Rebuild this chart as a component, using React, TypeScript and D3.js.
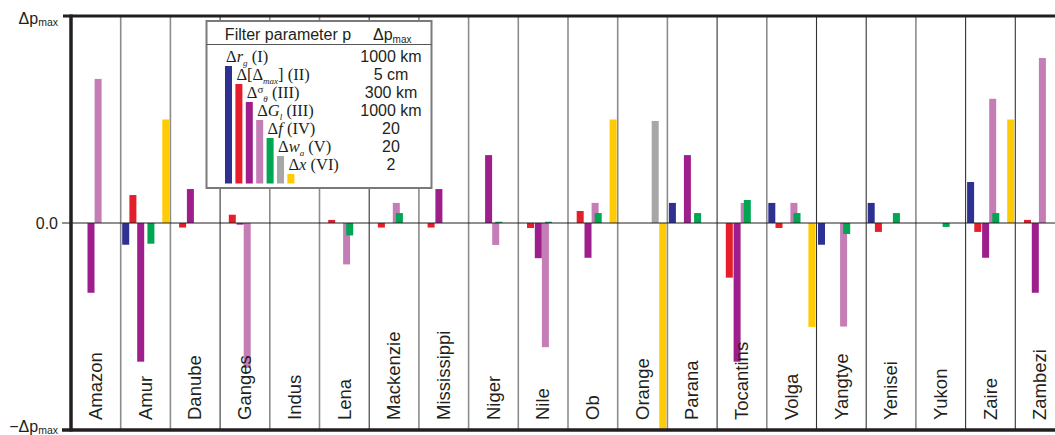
import React, { useEffect, useRef } from 'react'
import * as d3 from 'd3'

// rivers along the x axis
const rivers = [
  'Amazon', 'Amur', 'Danube', 'Ganges', 'Indus', 'Lena', 'Mackenzie', 'Mississippi', 'Niger', 'Nile',
  'Ob', 'Orange', 'Parana', 'Tocantins', 'Volga', 'Yangtye', 'Yenisei', 'Yukon', 'Zaire', 'Zambezi',
]

// relative change, in units of Δp_max, one array per filter parameter
const dRg = [0, -0.105, 0, 0, 0, 0, 0, 0, 0, 0, 0, 0, 0.097, 0, 0.097, -0.105, 0.097, 0, 0.198, 0]
const dDmax = [0, 0.135, -0.022, 0.04, 0, 0.015, -0.022, -0.022, 0, -0.024, 0.058, 0, 0, -0.264, -0.024, 0, -0.043, 0, -0.043, 0.015]
const dSigma = [-0.337, -0.67, 0.164, -0.008, 0, 0, 0, 0.164, 0.328, -0.17, -0.168, 0, 0.328, -0.67, 0, 0, 0, 0, -0.168, -0.337]
const dGl = [0.696, 0, 0, -0.7, 0, -0.2, 0.097, 0, -0.106, -0.6, 0.097, 0, 0, 0.097, 0.097, -0.5, 0, 0, 0.6, 0.797]
const dF = [0, -0.1, 0, 0, 0, -0.06, 0.048, 0, 0.006, 0.006, 0.048, 0, 0.048, 0.111, 0.048, -0.053, 0.048, -0.019, 0.048, 0]
const dWa = [0, 0, 0, 0, 0, 0, 0, 0, 0, 0, 0, 0.493, 0, 0, 0, 0, 0, 0, 0, 0]
const dX = [0, 0.5, 0, 0, 0, 0, 0, 0, 0, 0, 0.5, -1, 0, 0, -0.502, 0, 0, 0, 0.5, 0]

const seriesValues = [dRg, dDmax, dSigma, dGl, dF, dWa, dX]
const seriesColors = ['#2e3192', '#e41e2b', '#9e1f8c', '#c57db5', '#00a651', '#a7a7a7', '#ffcb05']
// bar offset inside a river column (green sits over pink, as in the original)
const seriesOffsets = [1.5, 8.7, 16.5, 23.6, 26.7, 34, 41.6]

// legend table
const legendMax = ['1000 km', '5 cm', '300 km', '1000 km', '20', '20', '2']
type Part = { t: string; i?: boolean; sub?: boolean; sup?: boolean }
const legendLabels: Part[][] = [
  [{ t: 'Δ' }, { t: 'r', i: true }, { t: 'g', i: true, sub: true }, { t: ' (I)' }],
  [{ t: 'Δ[Δ' }, { t: 'max', i: true, sub: true }, { t: '] (II)' }],
  [{ t: 'Δ' }, { t: 'σ', sup: true }, { t: 'θ', i: true, sub: true }, { t: ' (III)' }],
  [{ t: 'Δ' }, { t: 'G', i: true }, { t: 'l', i: true, sub: true }, { t: ' (III)' }],
  [{ t: 'Δ' }, { t: 'f', i: true }, { t: ' (IV)' }],
  [{ t: 'Δ' }, { t: 'w', i: true }, { t: 'a', i: true, sub: true }, { t: ' (V)' }],
  [{ t: 'Δ' }, { t: 'x', i: true }, { t: ' (VI)' }],
]

// which column separators are drawn dark (others light grey)
const darkSeparators = [false, false, true, false, false, true, false, false, false, false, false, false, true, false, true, true, false, true, true]

const W = 1055
const H = 435
const SANS = '"Liberation Sans", Arial, Helvetica, sans-serif'
const SERIF = '"Liberation Serif", "Times New Roman", serif'
const INK = '#231f20'

const App = () => {
  const ref = useRef<SVGSVGElement>(null)

  useEffect(() => {
    const svg = d3.select(ref.current)
    svg.selectAll('*').remove()

    const left = 71
    const colW = 49.7
    const x = d3.scaleBand<string>().domain(rivers).range([left, left + colW * rivers.length]).padding(0)
    const y = d3.scaleLinear().domain([-1, 1]).range([430, 16])
    const barW = 7

    // column separators
    svg
      .append('g')
      .selectAll('line')
      .data(rivers.slice(1))
      .enter()
      .append('line')
      .attr('x1', d => x(d)!)
      .attr('x2', d => x(d)!)
      .attr('y1', y(1))
      .attr('y2', y(-1))
      .attr('stroke', (_, i) => (darkSeparators[i] ? '#333' : '#8c8c8c'))
      .attr('stroke-width', (_, i) => (darkSeparators[i] ? 1.1 : 1.6))

    // bars
    const bars: { r: string; s: number; v: number }[] = []
    rivers.forEach((r, i) => {
      seriesValues.forEach((vals, s) => {
        if (vals[i] !== 0) bars.push({ r, s, v: vals[i] })
      })
    })
    svg
      .append('g')
      .selectAll('rect')
      .data(bars)
      .enter()
      .append('rect')
      .attr('x', d => x(d.r)! + seriesOffsets[d.s])
      .attr('width', barW)
      .attr('y', d => Math.min(y(d.v), y(0)))
      .attr('height', d => Math.abs(y(d.v) - y(0)))
      .attr('fill', d => seriesColors[d.s])

    // zero line
    svg
      .append('line')
      .attr('x1', 62)
      .attr('x2', W)
      .attr('y1', y(0))
      .attr('y2', y(0))
      .attr('stroke', INK)
      .attr('stroke-width', 1)

    // river names
    svg
      .append('g')
      .selectAll('text')
      .data(rivers)
      .enter()
      .append('text')
      .text(d => d)
      .attr('transform', d => `translate(${x(d)! + 31}, 420) rotate(-90)`)
      .attr('font-family', SANS)
      .attr('font-size', 18.5)
      .attr('fill', INK)

    // legend box
    const lg = svg.append('g')
    lg.append('rect')
      .attr('x', 206.5)
      .attr('y', 21)
      .attr('width', 225)
      .attr('height', 167)
      .attr('fill', '#fff')
      .attr('stroke', '#7a7a7a')
      .attr('stroke-width', 2)
    lg.append('line')
      .attr('x1', 206.5)
      .attr('x2', 431.5)
      .attr('y1', 44.5)
      .attr('y2', 44.5)
      .attr('stroke', '#555')
      .attr('stroke-width', 1)
    lg.append('text')
      .text('Filter parameter p')
      .attr('x', 288)
      .attr('y', 40)
      .attr('text-anchor', 'middle')
      .attr('font-family', SANS)
      .attr('font-size', 16)
      .attr('fill', INK)
    const hdr = lg.append('text').attr('x', 373).attr('y', 40).attr('font-family', SANS).attr('fill', INK)
    hdr.append('tspan').text('Δp').attr('font-size', 16)
    hdr.append('tspan').text('max').attr('font-size', 10).attr('dy', 3)

    const rowY = d3.scaleLinear().domain([0, 1]).range([62, 80])
    const legX = d3.scaleLinear().domain([0, 1]).range([225, 235.4])
    legendLabels.forEach((parts, k) => {
      lg.append('rect')
        .attr('x', legX(k))
        .attr('y', rowY(k) + 4)
        .attr('width', barW)
        .attr('height', 183.5 - rowY(k) - 4)
        .attr('fill', seriesColors[k])
      const t = lg
        .append('text')
        .attr('x', legX(k) + 1)
        .attr('y', rowY(k))
        .attr('font-family', SERIF)
        .attr('font-size', 16.5)
        .attr('fill', INK)
      let shift = 0
      parts.forEach(p => {
        const target = p.sub ? 4 : p.sup ? -5 : 0
        const ts = t.append('tspan').text(p.t)
        if (target !== shift) ts.attr('dy', target - shift)
        shift = target
        if (p.i) ts.attr('font-style', 'italic')
        if (p.sub) ts.attr('font-size', 9)
        if (p.sup) ts.attr('font-size', 11)
      })
      lg.append('text')
        .text(legendMax[k])
        .attr('x', 391)
        .attr('y', rowY(k))
        .attr('text-anchor', 'middle')
        .attr('font-family', SANS)
        .attr('font-size', 16)
        .attr('fill', INK)
    })

    // frame: left axis, top and bottom lines
    svg.append('line').attr('x1', 63).attr('x2', W).attr('y1', y(1)).attr('y2', y(1))
      .attr('stroke', INK).attr('stroke-width', 3)
    svg.append('line').attr('x1', 62).attr('x2', W).attr('y1', y(-1)).attr('y2', y(-1))
      .attr('stroke', INK).attr('stroke-width', 3.5)
    svg.append('line').attr('x1', left).attr('x2', left).attr('y1', y(1) - 1.5).attr('y2', y(-1) + 1.5)
      .attr('stroke', INK).attr('stroke-width', 3.5)

    // y labels
    const yl = (txt: string, yy: number, pre = '') => {
      const t = svg.append('text').attr('x', 58).attr('y', yy).attr('text-anchor', 'end')
        .attr('font-family', SANS).attr('fill', INK)
      t.append('tspan').text(pre + txt).attr('font-size', 16)
      if (txt === 'Δp') t.append('tspan').text('max').attr('font-size', 10.5).attr('dy', 2)
    }
    yl('Δp', 24)
    yl('0.0', 229)
    yl('Δp', 432, '−')
  }, [])

  return (
    <svg
      ref={ref}
      width={W}
      height={H}
      style={{ position: 'absolute', left: 0, top: 0, background: '#fff' }}
    />
  )
}

export default App
